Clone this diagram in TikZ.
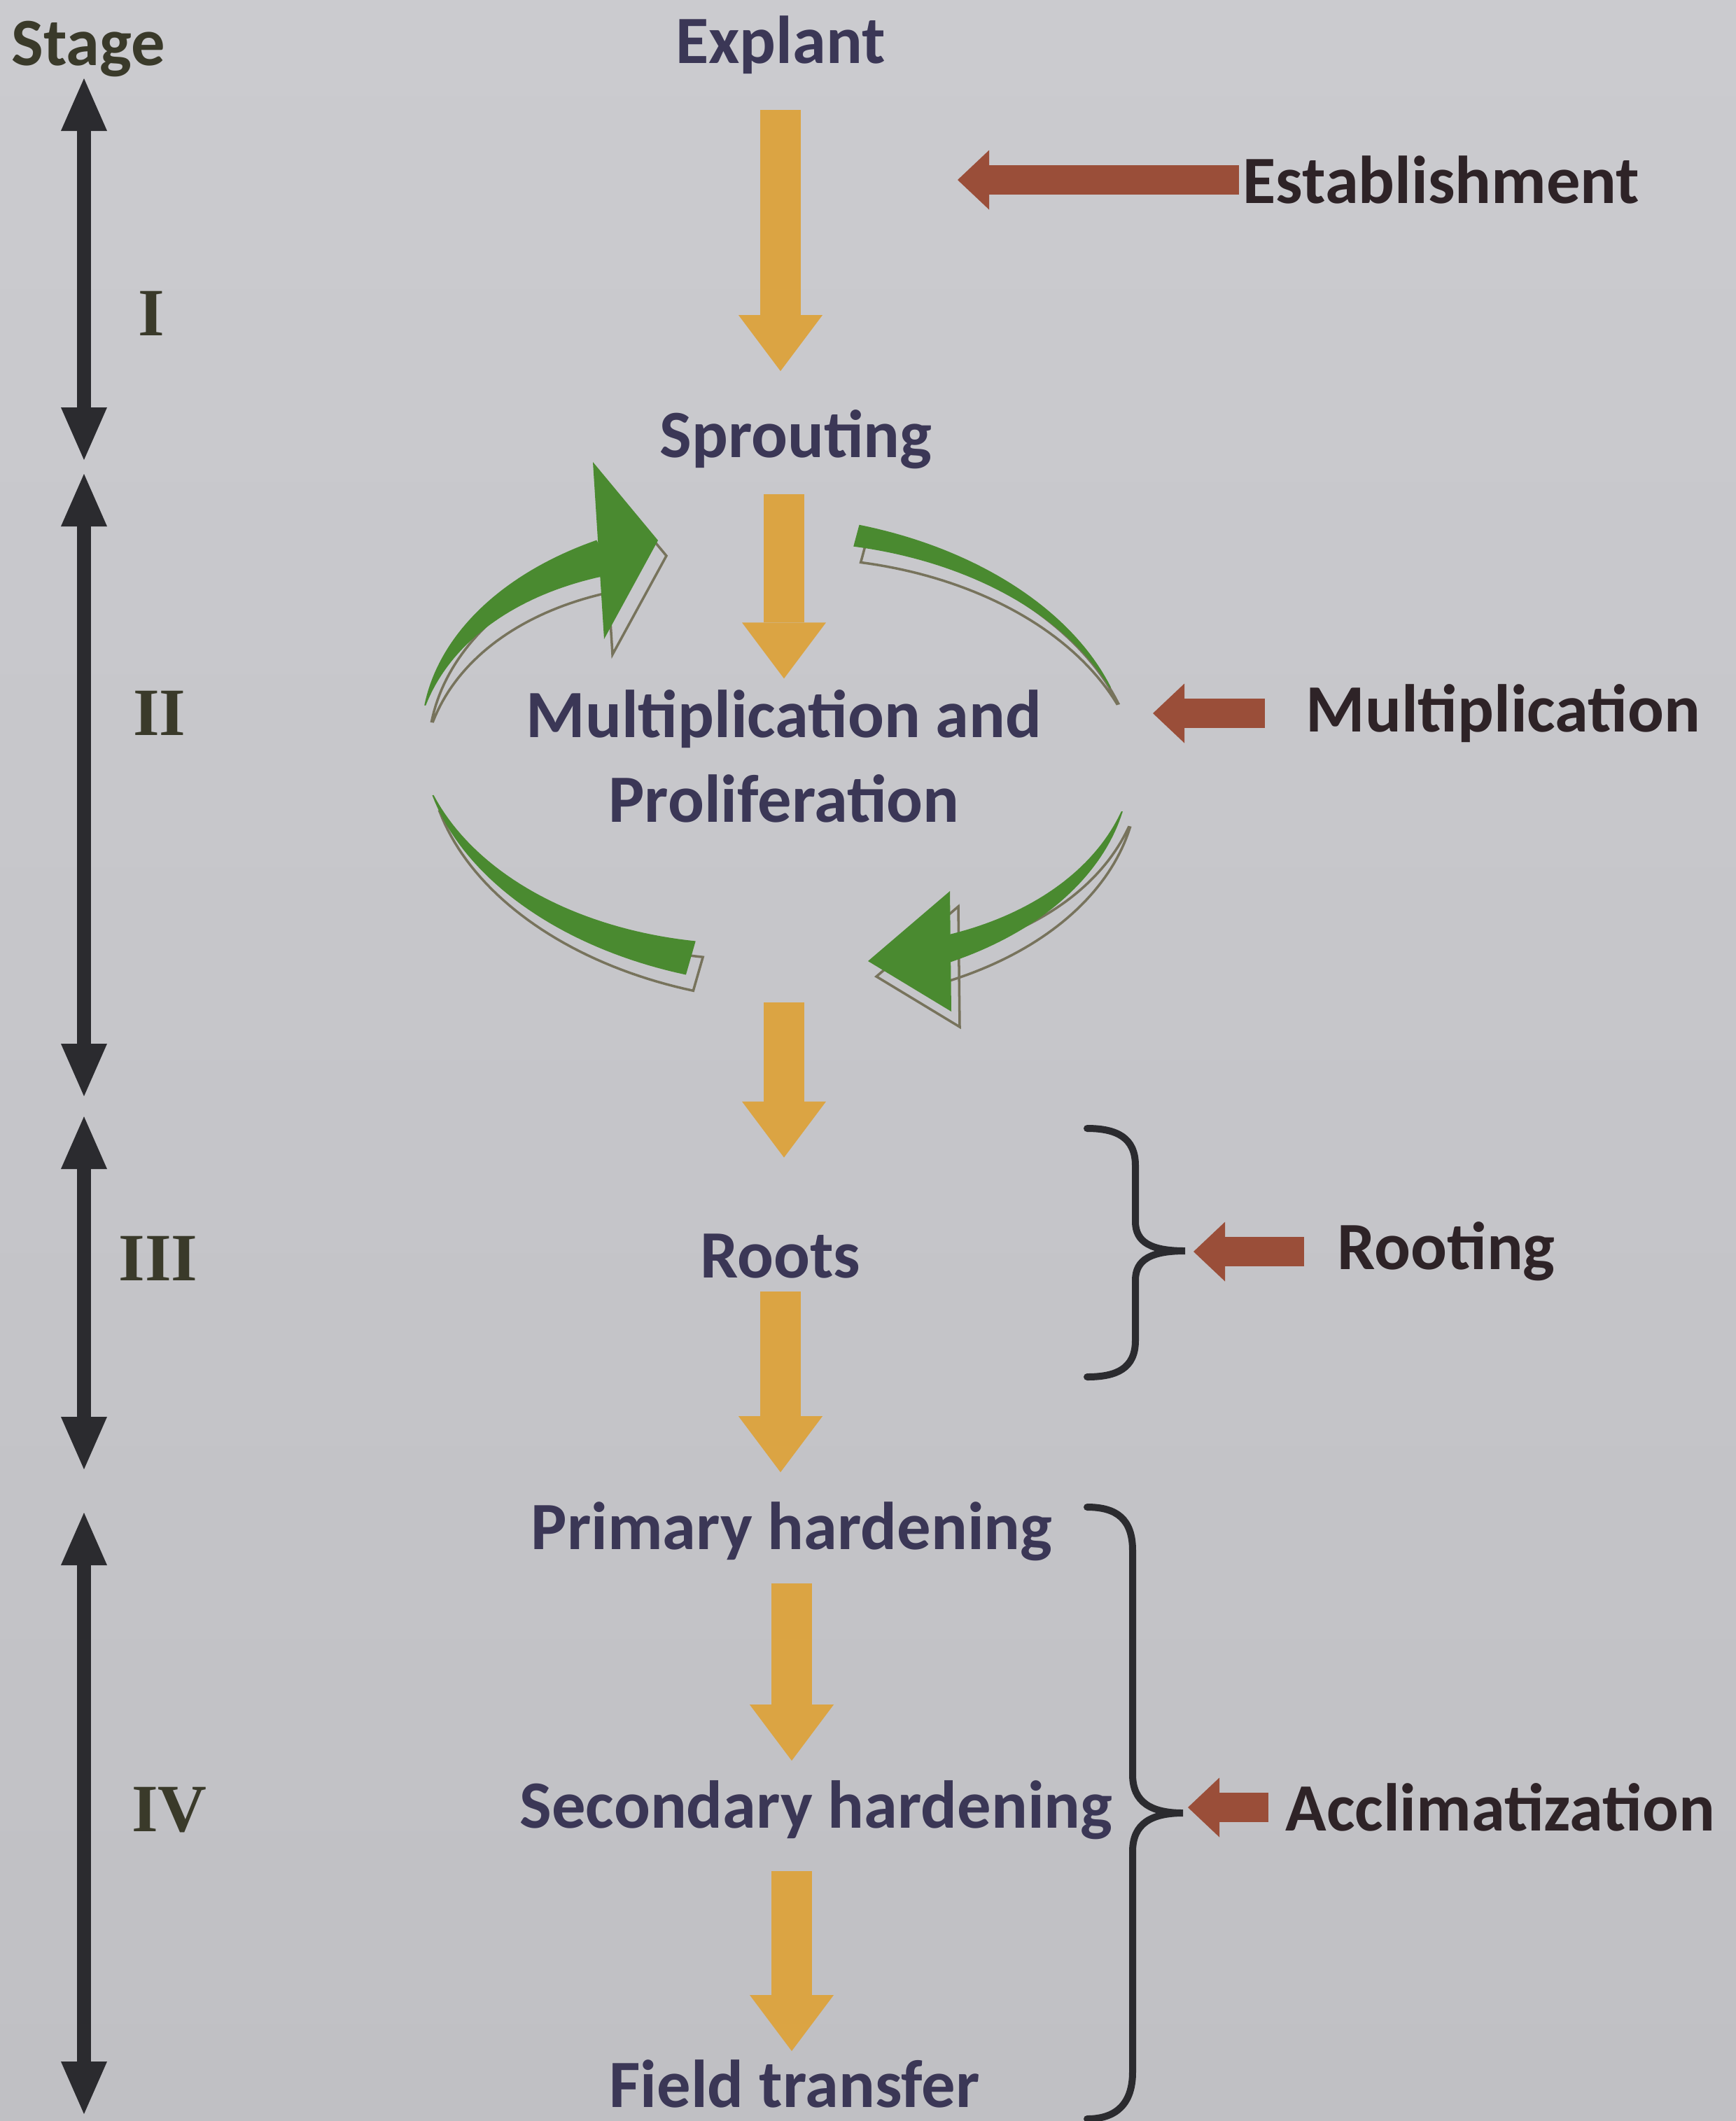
\documentclass[tikz,border=0pt]{standalone}
\usepackage{fontspec}
\setmainfont{Carlito}
\newfontfamily\numfont{Liberation Serif}
\usepackage{tikz}
\usetikzlibrary{arrows.meta, positioning, calc}
\definecolor{PaperTop}{HTML}{CBCBCF}
\definecolor{PaperBottom}{HTML}{C0C0C4}
\definecolor{InkNavy}{HTML}{3B3756}
\definecolor{InkBrown}{HTML}{2E2327}
\definecolor{InkOlive}{HTML}{3A3A2A}
\definecolor{Gold}{HTML}{DBA443}
\definecolor{Leaf}{HTML}{4A8A30}
\definecolor{LeafShadow}{HTML}{77735C}
\definecolor{Rust}{HTML}{9A4E39}
\definecolor{StageBlack}{HTML}{2B2B2F}

% one tapered band of the cycle: angles #1..#2, thickness #3..#4, style #5
\newcommand{\cyclearc}[5]{%
  \path[#5] plot[domain=#1:#2, samples=40, variable=\t]
      ({5.07*cos(\t)}, {3.36*sin(\t)})
    -- plot[domain=#2:#1, samples=40, variable=\t]
      ({(5.07-(#3)-((#4)-(#3))*(\t-(#1))/((#2)-(#1)))*cos(\t)},
       {(3.36-(#3)-((#4)-(#3))*(\t-(#1))/((#2)-(#1)))*sin(\t)})
    -- cycle;
}

\begin{document}
\begin{tikzpicture}[
    lbl/.style={font=\fontsize{27.5}{34.5}\selectfont\bfseries, text=InkNavy, inner sep=0pt},
    sidelbl/.style={font=\fontsize{27.5}{34.5}\selectfont\bfseries, text=InkBrown, inner sep=0pt, anchor=west},
    numlbl/.style={font=\fontsize{27.5}{34.5}\selectfont\numfont\bfseries, text=InkOlive, inner sep=0pt},
    stagearrow/.style={draw=StageBlack, line width=0.2cm,
        {Triangle[width=0.66cm,length=0.75cm,line width=0pt]}-{Triangle[width=0.66cm,length=0.75cm,line width=0pt]}},
    yarrow/.style={draw=Gold, line width=0.58cm, -{Triangle[width=1.2cm,length=0.8cm,line width=0pt]}},
    brarrow/.style={draw=Rust, line width=0.42cm, -{Triangle[width=0.85cm,length=0.45cm,line width=0pt]}},
    bracket/.style={draw=StageBlack, line width=0.1cm, line cap=round},
    leafband/.style={fill=Leaf},
    cycleshadow/.style={draw=LeafShadow, line width=1pt, shift={(0.12,-0.22)}}
]
    % Paper
    \useasboundingbox (0,0) rectangle (24.8,-30.3);
    \shade[top color=PaperTop, bottom color=PaperBottom] (0,0) rectangle (24.8,-30.3);

    % Stages
    \node[lbl, text=InkOlive] (stage) at (1.26,-0.70) {Stage};
    \coordinate (s1a) at (1.20,-1.12);
    \coordinate (s1b) at (1.20,-6.57);
    \coordinate (s2a) at (1.20,-6.77);
    \coordinate (s2b) at (1.20,-15.66);
    \coordinate (s3a) at (1.20,-15.95);
    \coordinate (s3b) at (1.20,-20.99);
    \coordinate (s4a) at (1.20,-21.61);
    \coordinate (s4b) at (1.20,-30.20);
    \draw[stagearrow] (s1a) -- (s1b);
    \draw[stagearrow] (s2a) -- (s2b);
    \draw[stagearrow] (s3a) -- (s3b);
    \draw[stagearrow] (s4a) -- (s4b);
    \node[numlbl] (n1) at (2.16,-4.48) {I};
    \node[numlbl] (n2) at (2.28,-10.19) {II};
    \node[numlbl] (n3) at (2.26,-17.98) {III};
    \node[numlbl] (n4) at (2.42,-25.86) {IV};

    % Main steps
    \node[lbl] (explant) at (11.15,-0.64) {Explant};
    \node[lbl] (sprout) at (11.37,-6.28) {Sprouting};
    \node[lbl, align=center] (multi) at (11.20,-10.80) {Multiplication and\\Proliferation};
    \node[lbl] (roots) at (11.15,-17.94) {Roots};
    \node[lbl] (primary) at (11.31,-21.88) {Primary hardening};
    \node[lbl] (secondary) at (11.66,-25.86) {Secondary hardening};
    \node[lbl] (field) at (11.35,-29.77) {Field transfer};

    \draw[yarrow, shorten <=0.51cm, shorten >=0.55cm] (explant.south) -- (explant.south |- sprout.north);
    \draw[yarrow, shorten <=0.35cm, shorten >=0.15cm] (sprout.south -| multi) -- (multi.north);
    \draw[yarrow, shorten <=2.56cm, shorten >=1.08cm] (multi.south) -- (multi.south |- roots.north);
    \draw[yarrow, shorten <=0.19cm, shorten >=0.42cm] (roots.south) -- (roots.south |- primary.north);
    \draw[yarrow, shorten <=0.31cm, shorten >=0.28cm] (primary.south) -- (primary.south |- secondary.north);
    \draw[yarrow, shorten <=0.44cm, shorten >=0.12cm] (secondary.south -| primary) -- (primary.south |- field.north);

    % Multiplication cycle
    \begin{scope}[shift={(11.08,-10.72)}, rotate=-4]
        \cyclearc{123}{175}{0.55}{0.02}{cycleshadow}
        \cyclearc{21.5}{79}{0.02}{0.32}{cycleshadow}
        \cyclearc{-60}{-9}{0.42}{0.02}{cycleshadow}
        \cyclearc{197}{258}{0.02}{0.50}{cycleshadow}
    \end{scope}
    \draw[cycleshadow] (8.47,-6.60) -- (9.40,-7.72) -- (8.63,-9.13) -- cycle;
    \draw[cycleshadow] (13.57,-12.73) -- (12.40,-13.73) -- (13.59,-14.45) -- cycle;
    \begin{scope}[shift={(11.08,-10.72)}, rotate=-4]
        \cyclearc{123}{175}{0.55}{0.02}{leafband}
        \cyclearc{21.5}{79}{0.02}{0.32}{leafband}
        \cyclearc{-60}{-9}{0.42}{0.02}{leafband}
        \cyclearc{197}{258}{0.02}{0.50}{leafband}
    \end{scope}
    \fill[Leaf] (8.47,-6.60) -- (9.40,-7.72) -- (8.63,-9.13) -- cycle;
    \fill[Leaf] (13.57,-12.73) -- (12.40,-13.73) -- (13.59,-14.45) -- cycle;

    % Braces
    \draw[bracket] (15.53,-16.12) .. controls (15.95,-16.12) and (16.22,-16.25) .. (16.22,-16.65)
        -- (16.22,-17.45) .. controls (16.22,-17.75) and (16.45,-17.87) .. (16.93,-17.87)
        .. controls (16.45,-17.87) and (16.22,-17.99) .. (16.22,-18.29)
        -- (16.22,-19.15) .. controls (16.22,-19.55) and (15.95,-19.67) .. (15.53,-19.67);
    \coordinate (rbrace) at (16.93,-17.87);
    \draw[bracket] (15.53,-21.53) .. controls (15.95,-21.53) and (16.18,-21.70) .. (16.18,-22.15)
        -- (16.18,-25.35) .. controls (16.18,-25.75) and (16.45,-25.90) .. (16.90,-25.90)
        .. controls (16.45,-25.90) and (16.18,-26.05) .. (16.18,-26.45)
        -- (16.18,-29.60) .. controls (16.18,-30.05) and (15.95,-30.27) .. (15.53,-30.27);
    \coordinate (abrace) at (16.90,-25.90);

    % Phase labels
    \node[sidelbl] (estab) at (17.75,-2.57) {Establishment};
    \node[sidelbl] (multlbl) at (18.65,-10.19) {Multiplication};
    \node[sidelbl] (rootlbl) at (19.10,-17.88) {Rooting};
    \node[sidelbl] (acclim) at (18.36,-25.82) {Acclimatization};

    \coordinate (estabtip) at (13.68,-2.57);
    \coordinate (multtip) at (16.47,-10.19);
    \draw[brarrow, shorten <=0.05cm] (estab.west) -- (estabtip);
    \draw[brarrow, shorten <=0.58cm] (multlbl.west) -- (multtip);
    \draw[brarrow, shorten <=0.47cm, shorten >=0.12cm] (rootlbl.west) -- (rootlbl.west -| rbrace);
    \draw[brarrow, shorten <=0.24cm, shorten >=0.07cm] (acclim.west) -- (acclim.west -| abrace);
\end{tikzpicture}
\end{document}
